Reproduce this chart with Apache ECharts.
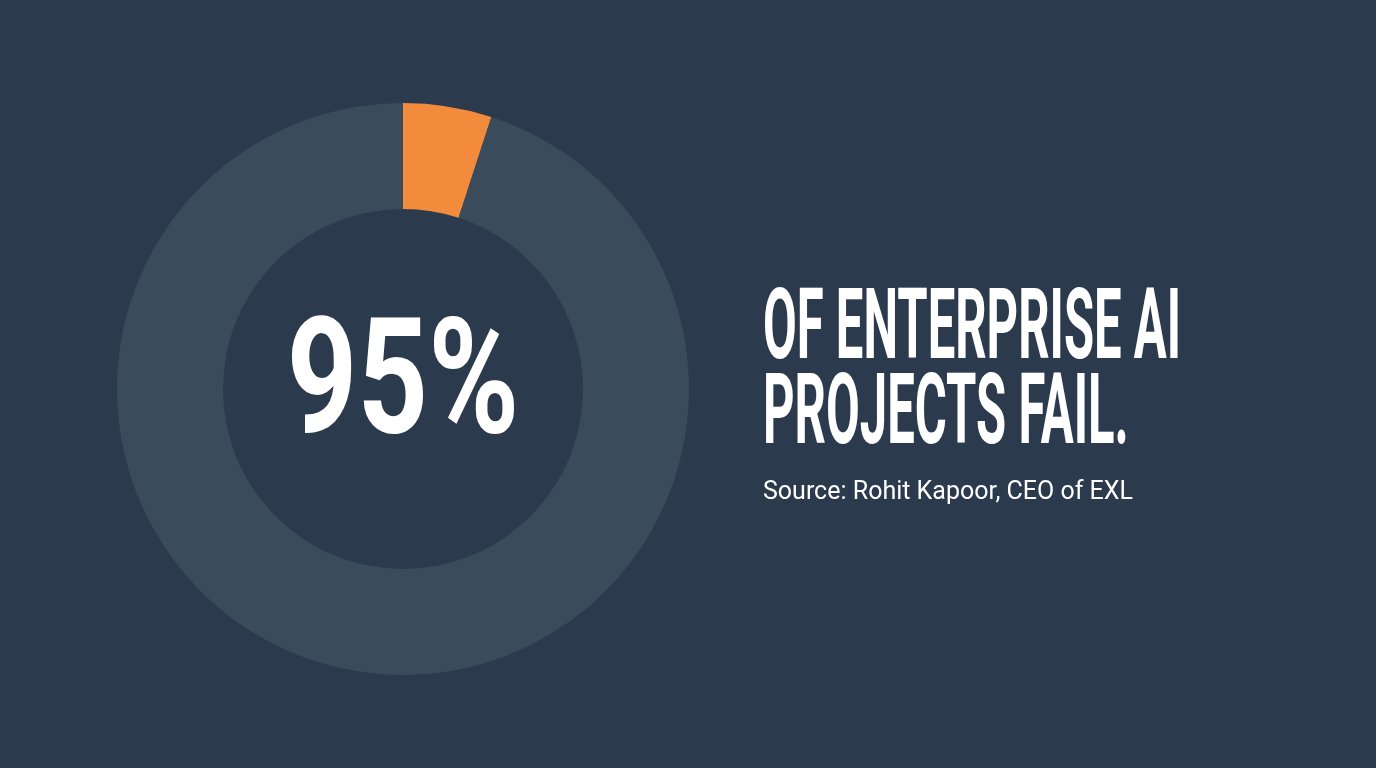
<!DOCTYPE html>
<html><head><meta charset="utf-8">
<script src="https://cdn.jsdelivr.net/npm/echarts@6/dist/echarts.min.js"></script>
<style>html,body{margin:0;padding:0;background:#2c3a4e}#c{width:1376px;height:768px}</style>
</head><body><div id="c"></div>
<script>
const categories = ['Succeed', 'Fail'];
const values = [5, 95];
const bigLabel = '95%';
const headline = ['OF ENTERPRISE AI', 'PROJECTS FAIL.'];
const source = 'Source: Rohit Kapoor, CEO of EXL';

const chart = echarts.init(document.getElementById('c'));
chart.setOption({
  backgroundColor: '#2c3a4e',
  animation: false,
  graphic: [
    { type: 'text', x: 403, y: 391, scaleX: 0.76, z: 10, style: { text: bigLabel, fill: '#ffffff',
      font: 'bold 162px Roboto, sans-serif', textAlign: 'center', textVerticalAlign: 'middle' } },
    { type: 'text', x: 763, y: 333, scaleX: 0.5, style: { text: headline[0], fill: '#ffffff',
      font: 'bold 98px Roboto, sans-serif', textAlign: 'left', textVerticalAlign: 'middle' } },
    { type: 'text', x: 763, y: 418, scaleX: 0.5, style: { text: headline[1], fill: '#ffffff',
      font: 'bold 98px Roboto, sans-serif', textAlign: 'left', textVerticalAlign: 'middle' } },
    { type: 'text', x: 763, y: 493, style: { text: source, fill: '#ffffff',
      font: '25px Roboto, sans-serif', textAlign: 'left', textVerticalAlign: 'middle' } }
  ],
  series: [{
    type: 'pie',
    center: [403, 389],
    radius: [180, 286],
    startAngle: 90,
    clockwise: true,
    silent: true,
    label: { show: false },
    labelLine: { show: false },
    data: [
      { name: categories[0], value: values[0], itemStyle: { color: '#f38b3c' } },
      { name: categories[1], value: values[1], itemStyle: { color: '#3a4b5c' } }
    ]
  }]
});
</script></body></html>
